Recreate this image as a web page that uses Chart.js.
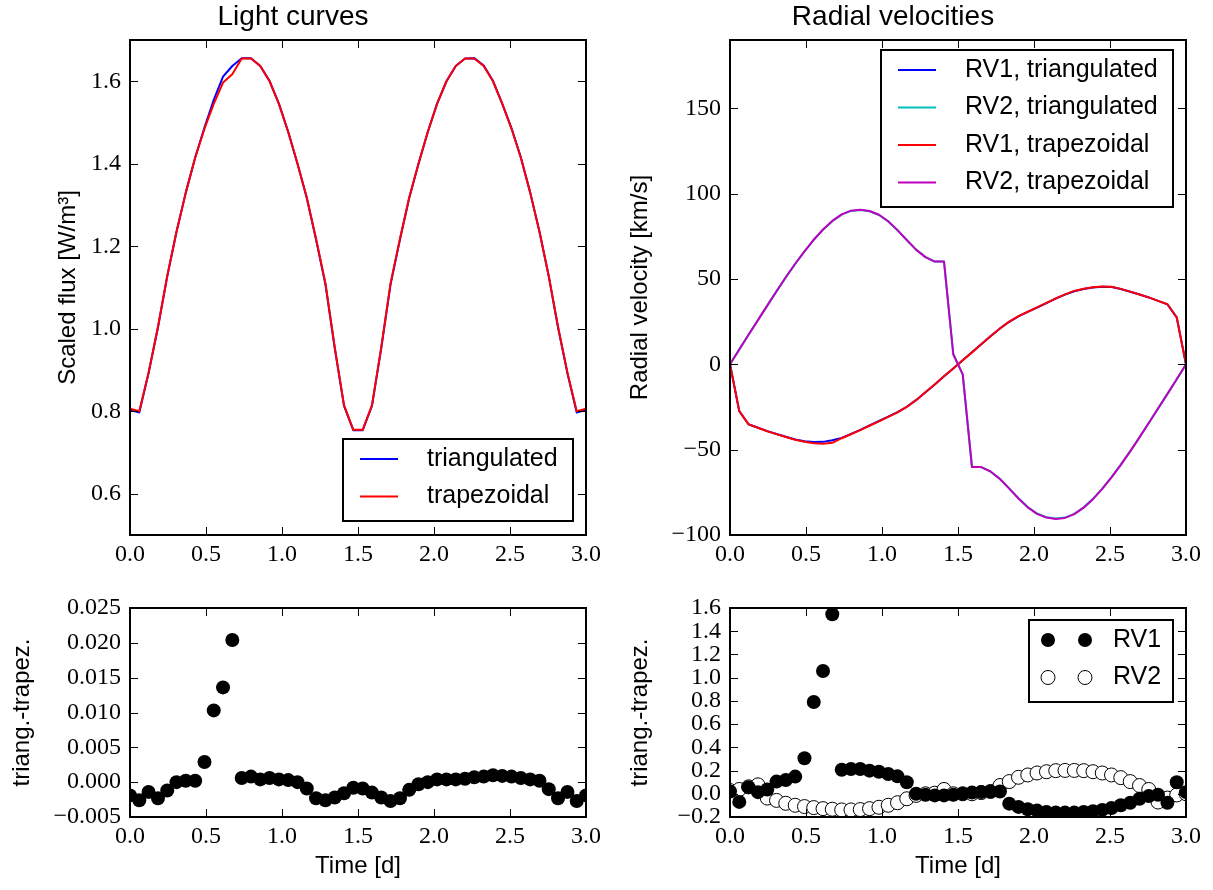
<!DOCTYPE html>
<html><head><meta charset="utf-8">
<script src="https://cdn.jsdelivr.net/npm/chart.js@4.4.0/dist/chart.umd.min.js"></script>
<style>
html,body{margin:0;padding:0;background:#fff;}
body{width:1213px;height:890px;position:relative;overflow:hidden;}
canvas{position:absolute;}
</style></head><body>
<canvas id="lc" width="610" height="580" style="left:0;top:0;width:610px;height:580px"></canvas>
<canvas id="rv" width="613" height="580" style="left:600px;top:0;width:613px;height:580px"></canvas>
<canvas id="lcres" width="610" height="310" style="left:0;top:580px;width:610px;height:310px"></canvas>
<canvas id="rvres" width="613" height="310" style="left:600px;top:580px;width:613px;height:310px"></canvas>
<script>
const SANS = '"Liberation Sans", Arial, sans-serif';
const SERIF = '"Liberation Serif", "Times New Roman", serif';

// ---------- data ----------
const time = [0.000, 0.061, 0.122, 0.184, 0.245, 0.306, 0.367, 0.429, 0.490, 0.551,
              0.612, 0.673, 0.735, 0.796, 0.857, 0.918, 0.980, 1.041, 1.102, 1.163,
              1.224, 1.286, 1.347, 1.408, 1.469, 1.531, 1.592, 1.653, 1.714, 1.776,
              1.837, 1.898, 1.959, 2.020, 2.082, 2.143, 2.204, 2.265, 2.327, 2.388,
              2.449, 2.510, 2.571, 2.633, 2.694, 2.755, 2.816, 2.878, 2.939, 3.000];

const fluxTriangulated = [0.804, 0.797, 0.892, 1.003, 1.127, 1.235, 1.330, 1.415, 1.488, 1.555,
              1.611, 1.637, 1.656, 1.656, 1.637, 1.601, 1.545, 1.477, 1.400, 1.317,
              1.216, 1.107, 0.953, 0.813, 0.754, 0.754, 0.813, 0.953, 1.107, 1.216,
              1.317, 1.400, 1.477, 1.545, 1.600, 1.637, 1.655, 1.656, 1.638, 1.601,
              1.546, 1.486, 1.416, 1.330, 1.235, 1.127, 1.003, 0.892, 0.797, 0.804];
const fluxTrapezoidal = [0.806, 0.800, 0.893, 1.005, 1.128, 1.235, 1.330, 1.415, 1.485, 1.545,
              1.597, 1.617, 1.655, 1.655, 1.637, 1.600, 1.545, 1.477, 1.400, 1.318,
              1.218, 1.110, 0.955, 0.815, 0.755, 0.755, 0.815, 0.955, 1.110, 1.218,
              1.318, 1.400, 1.477, 1.545, 1.600, 1.637, 1.655, 1.655, 1.637, 1.600,
              1.545, 1.485, 1.415, 1.330, 1.235, 1.128, 1.005, 0.893, 0.800, 0.806];

const rv1Triangulated = [0.02, -27.47, -35.14, -37.19, -39.16, -40.80, -42.48, -44.05, -45.09, -45.51,
              -45.44, -44.45, -43.09, -40.79, -38.39, -35.80, -33.21, -30.63, -28.05, -24.90,
              -21.00, -16.41, -11.81, -7.01, -2.41, 2.40, 7.01, 11.82, 16.42, 21.02,
              24.92, 28.09, 30.67, 33.26, 35.84, 38.44, 40.84, 42.84, 44.14, 45.05,
              45.46, 45.28, 44.10, 42.52, 40.86, 39.18, 37.19, 35.12, 27.50, 0.01];
const rv2Triangulated = [0.03, 8.74, 17.36, 25.98, 34.36, 42.74, 50.92, 58.80, 66.09, 72.88,
              78.87, 83.87, 87.66, 89.86, 90.46, 89.67, 87.48, 83.70, 78.52, 72.76,
              67.19, 62.80, 60.21, 60.24, 5.90, -5.90, -60.20, -60.19, -62.78, -67.13,
              -72.70, -78.46, -83.64, -87.42, -89.61, -90.40, -89.80, -87.60, -83.80, -78.81,
              -72.82, -66.04, -58.76, -50.90, -42.73, -34.36, -25.97, -17.34, -8.71, 0.00];
const rv1Trapezoidal = [0.0, -27.4, -35.2, -37.2, -39.2, -40.9, -42.6, -44.2, -45.4, -46.3,
              -46.5, -46.0, -43.3, -41.0, -38.6, -36.0, -33.4, -30.8, -28.2, -25.0,
              -21.0, -16.4, -11.8, -7.0, -2.4, 2.4, 7.0, 11.8, 16.4, 21.0,
              25.0, 28.2, 30.8, 33.4, 36.0, 38.6, 41.0, 43.0, 44.3, 45.2,
              45.6, 45.4, 44.2, 42.6, 40.9, 39.2, 37.2, 35.2, 27.4, 0.0];
const rv2Trapezoidal = [0.0, 8.7, 17.3, 25.9, 34.4, 42.8, 51.0, 58.9, 66.2, 73.0,
              79.0, 84.0, 87.8, 90.0, 90.6, 89.8, 87.6, 83.8, 78.6, 72.8,
              67.2, 62.8, 60.2, 60.2, 5.9, -5.9, -60.2, -60.2, -62.8, -67.2,
              -72.8, -78.6, -83.8, -87.6, -89.8, -90.6, -90.0, -87.8, -84.0, -79.0,
              -73.0, -66.2, -58.9, -51.0, -42.8, -34.4, -25.9, -17.3, -8.7, 0.0];

const fluxDiff = [-0.0019, -0.0026, -0.0014, -0.0023, -0.0012, 0.0000, 0.0002, 0.0002, 0.0029, 0.0103,
              0.0136, 0.0204, 0.0006, 0.0008, 0.0004, 0.0006, 0.0004, 0.0003, 0.0000, -0.0009,
              -0.0023, -0.0026, -0.0022, -0.0016, -0.0008, -0.0009, -0.0015, -0.0022, -0.0027, -0.0023,
              -0.0011, -0.0003, 0.0000, 0.0004, 0.0004, 0.0004, 0.0005, 0.0007, 0.0008, 0.0010,
              0.0009, 0.0008, 0.0006, 0.0004, 0.0002, -0.0010, -0.0023, -0.0014, -0.0027, -0.0019];
const rv1Diff = [0.020, -0.070, 0.057, 0.014, 0.037, 0.105, 0.119, 0.148, 0.306, 0.790,
              1.058, 1.546, 0.207, 0.213, 0.213, 0.199, 0.190, 0.170, 0.150, 0.099,
              0.000, -0.009, -0.014, -0.014, -0.009, 0.000, 0.010, 0.015, 0.020, 0.020,
              -0.085, -0.113, -0.133, -0.145, -0.156, -0.162, -0.162, -0.162, -0.156, -0.150,
              -0.139, -0.122, -0.099, -0.077, -0.043, -0.020, -0.009, -0.077, 0.099, 0.014];
const rv2Diff = [0.028, 0.037, 0.060, 0.077, -0.037, -0.057, -0.082, -0.099, -0.110, -0.119,
              -0.128, -0.133, -0.139, -0.139, -0.136, -0.128, -0.116, -0.099, -0.077, -0.043,
              -0.014, 0.000, 0.005, 0.037, 0.000, 0.000, 0.000, 0.010, 0.020, 0.071,
              0.105, 0.142, 0.162, 0.179, 0.190, 0.199, 0.201, 0.201, 0.199, 0.190,
              0.179, 0.162, 0.139, 0.105, 0.071, 0.037, -0.071, -0.037, -0.010, 0.000];

// tick values
const timeTicks = [0.0, 0.5, 1.0, 1.5, 2.0, 2.5, 3.0];
const fluxTicks = [0.6, 0.8, 1.0, 1.2, 1.4, 1.6];
const rvTicks = [-100, -50, 0, 50, 100, 150];
const fluxDiffTicks = [-0.005, 0.000, 0.005, 0.010, 0.015, 0.020, 0.025];
const rvDiffTicks = [-0.2, 0.0, 0.2, 0.4, 0.6, 0.8, 1.0, 1.2, 1.4, 1.6];

// ---------- helpers ----------
const pts = (xs, ys) => xs.map((x, i) => ({x: x, y: ys[i]}));
const fmt = d => (v) => {
  const r = Math.abs(v) < 1e-9 ? 0 : v;
  return (r < 0 ? '\u2212' : '') + Math.abs(r).toFixed(d);
};

const frameTicks = {
  id: 'frameTicks',
  afterDatasetsDraw(chart) {
    const ctx = chart.ctx, a = chart.chartArea, xs = chart.scales.x, ys = chart.scales.y;
    ctx.save();
    ctx.strokeStyle = '#000';
    ctx.lineWidth = 1;
    ctx.beginPath();
    xs.ticks.forEach(t => {
      const p = Math.round(xs.getPixelForValue(t.value)) + 0.5;
      ctx.moveTo(p, a.bottom); ctx.lineTo(p, a.bottom - 8);
      ctx.moveTo(p, a.top); ctx.lineTo(p, a.top + 8);
    });
    ys.ticks.forEach(t => {
      const p = Math.round(ys.getPixelForValue(t.value)) + 0.5;
      ctx.moveTo(a.left, p); ctx.lineTo(a.left + 8, p);
      ctx.moveTo(a.right, p); ctx.lineTo(a.right - 8, p);
    });
    ctx.stroke();
    ctx.lineWidth = 2;
    ctx.strokeRect(a.left, a.top, a.right - a.left, a.bottom - a.top);
    ctx.restore();
  }
};

const boxLegend = {
  id: 'boxLegend',
  afterDraw(chart, args, o) {
    if (!o || !o.width) return;
    const ctx = chart.ctx, a = chart.chartArea;
    const sets = chart.data.datasets;
    const h = 20 + (sets.length - 1) * 37.5 + 24.5;
    const left = a.right - o.right - o.width;
    const top = o.corner === 'lower' ? a.bottom - o.offset - h : a.top + o.offset;
    ctx.save();
    ctx.fillStyle = '#fff';
    ctx.fillRect(left, top, o.width, h);
    ctx.lineWidth = 2; ctx.strokeStyle = '#000';
    ctx.strokeRect(left, top, o.width, h);
    ctx.font = '25px ' + SANS;
    ctx.textBaseline = 'middle'; ctx.textAlign = 'left';
    sets.forEach((ds, k) => {
      const y = top + 20 + k * 37.5;
      if (ds.showLine) {
        ctx.strokeStyle = ds.borderColor; ctx.lineWidth = ds.borderWidth;
        ctx.beginPath(); ctx.moveTo(left + 17, y); ctx.lineTo(left + 55, y); ctx.stroke();
      } else {
        [left + 19, left + 56].forEach(cx => {
          ctx.beginPath(); ctx.arc(cx, y, ds.pointRadius, 0, Math.PI * 2);
          ctx.fillStyle = ds.pointBackgroundColor; ctx.fill();
          if (ds.pointBorderWidth) { ctx.lineWidth = ds.pointBorderWidth; ctx.strokeStyle = ds.pointBorderColor; ctx.stroke(); }
        });
      }
      ctx.fillStyle = '#000';
      ctx.fillText(ds.label, left + 84, y);
    });
    ctx.restore();
  }
};

function axisX(h, title) {
  return {
    type: 'linear', position: 'bottom', min: 0, max: 3,
    afterBuildTicks: s => { s.ticks = timeTicks.map(v => ({value: v})); },
    afterFit: s => { s.height = h; },
    grid: {display: false, drawTicks: false}, border: {display: false},
    ticks: {autoSkip: false, maxRotation: 0, padding: 5, color: '#000',
            font: {family: SERIF, size: 24}, callback: fmt(1)},
    title: title ? {display: true, text: title, color: '#000', font: {family: SANS, size: 24},
                    padding: {top: 0, bottom: 9.6}} : {display: false}
  };
}
function axisY(min, max, tickVals, dec, title, titlePad) {
  return {
    type: 'linear', position: 'left', min: min, max: max,
    afterBuildTicks: s => { s.ticks = tickVals.map(v => ({value: v})); },
    afterFit: s => { s.width = 130; },
    grid: {display: false, drawTicks: false}, border: {display: false},
    ticks: {autoSkip: false, padding: 9, color: '#000',
            font: {family: SERIF, size: 24}, callback: fmt(dec)},
    title: {display: true, text: title, color: '#000', font: {family: SANS, size: 24},
            padding: {top: titlePad, bottom: 0}}
  };
}
function baseOptions(pad, title, legend, xs, ys) {
  return {
    responsive: false, animation: false, devicePixelRatio: 1,
    layout: {padding: pad},
    plugins: {
      legend: {display: false}, tooltip: {enabled: false},
      title: title ? {display: true, text: title, color: '#000',
                      font: {family: SANS, size: 28, weight: 'normal'},
                      padding: {top: 0, bottom: 40 - 28 * 1.2}} : {display: false},
      boxLegend: legend || {}
    },
    scales: {x: xs, y: ys}
  };
}
const lineDs = (label, xs, ys, color, order) => ({
  label, data: pts(xs, ys), showLine: true, borderColor: color, backgroundColor: color,
  borderWidth: 2, pointRadius: 0, pointHoverRadius: 0, borderJoinStyle: 'round',
  tension: 0, order, clip: 0
});
const dotDs = (label, xs, ys, filled, order) => ({
  label, data: pts(xs, ys), showLine: false, pointRadius: 7, pointHoverRadius: 7,
  pointBackgroundColor: filled ? '#000' : '#fff', pointBorderColor: '#000',
  pointBorderWidth: filled ? 0 : 1, order, clip: 0
});

// ---------- charts ----------
new Chart(document.getElementById('lc'), {
  type: 'scatter',
  data: {datasets: [
    lineDs('triangulated', time, fluxTriangulated, '#0000ff', 2),
    lineDs('trapezoidal', time, fluxTrapezoidal, '#ff0000', 1)
  ]},
  options: baseOptions({left: 0, right: 24, top: 0, bottom: 0}, 'Light curves',
    {width: 230, right: 13, offset: 14, corner: 'lower'},
    axisX(45, null), axisY(0.5, 1.7, fluxTicks, 1, 'Scaled flux [W/m\u00b3]', 53.6)),
  plugins: [frameTicks, boxLegend]
});

new Chart(document.getElementById('rv'), {
  type: 'scatter',
  data: {datasets: [
    lineDs('RV1, triangulated', time, rv1Triangulated, '#0000ff', 4),
    lineDs('RV2, triangulated', time, rv2Triangulated, '#00bfbf', 3),
    lineDs('RV1, trapezoidal', time, rv1Trapezoidal, '#ff0000', 2),
    lineDs('RV2, trapezoidal', time, rv2Trapezoidal, '#bf00bf', 1)
  ]},
  options: baseOptions({left: 0, right: 27, top: 0, bottom: 0}, 'Radial velocities',
    {width: 292, right: 13, offset: 10, corner: 'upper'},
    axisX(45, null), axisY(-100, 190, rvTicks, 0, 'Radial velocity [km/s]', 25.6)),
  plugins: [frameTicks, boxLegend]
});

new Chart(document.getElementById('lcres'), {
  type: 'scatter',
  data: {datasets: [
    dotDs('triang.-trapez.', time, fluxDiff, true, 1)
  ]},
  options: baseOptions({left: 0, right: 24, top: 28, bottom: 0}, null, null,
    axisX(73, 'Time [d]'), axisY(-0.005, 0.025, fluxDiffTicks, 3, 'triang.-trapez.', 7.6)),
  plugins: [frameTicks]
});

new Chart(document.getElementById('rvres'), {
  type: 'scatter',
  data: {datasets: [
    dotDs('RV1', time, rv1Diff, true, 1),
    dotDs('RV2', time, rv2Diff, false, 2)
  ]},
  options: baseOptions({left: 0, right: 27, top: 28, bottom: 0}, null,
    {width: 144, right: 13, offset: 12, corner: 'upper'},
    axisX(73, 'Time [d]'), axisY(-0.2, 1.6, rvDiffTicks, 1, 'triang.-trapez.', 25.6)),
  plugins: [frameTicks, boxLegend]
});
</script>
</body></html>
